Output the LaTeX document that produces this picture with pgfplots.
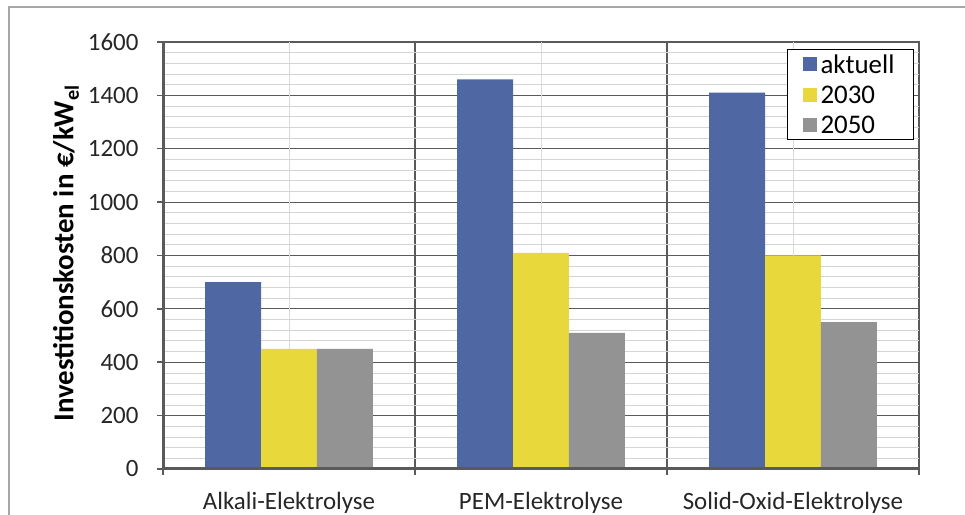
\documentclass[border=0pt]{standalone}
\usepackage{pgfplots}
\pgfplotsset{compat=1.18}
\usepackage{fontspec}
\setmainfont{Carlito}
\definecolor{cblue}{HTML}{4F67A3}
\definecolor{cyellow}{HTML}{E8D83B}
\definecolor{cgray}{HTML}{939393}
\definecolor{dgray}{HTML}{5A5A5A}
\definecolor{mlgray}{HTML}{D4D4D4}
\definecolor{vlgray}{HTML}{DADADA}
\definecolor{framegray}{HTML}{A6A6A6}
\begin{document}
\begin{tikzpicture}[x=1bp,y=1bp]
\useasboundingbox (0,0) rectangle (965,515);
\draw[color=framegray, line width=1.5bp] (9,0) -- (9,508) -- (965,508);
\begin{axis}[
  at={(163bp,46bp)}, anchor=south west,
  scale only axis, width=756bp, height=427bp,
  xmin=-0.5, xmax=2.5, ymin=0, ymax=1600,
  ytick={0,200,...,1600},
  xtick={-0.5,0.5,1.5,2.5}, xticklabels={},
  xtick pos=bottom, ytick pos=left,
  extra x ticks={0,1,2},
  extra x tick labels={Alkali-Elektrolyse,PEM-Elektrolyse,Solid-Oxid-Elektrolyse},
  extra x tick style={grid=major, major tick length=0pt, major grid style={color=vlgray, line width=0.8bp}},
  extra y ticks={40,80,120,160,240,280,320,360,440,480,520,560,640,680,720,760,840,880,920,960,1040,1080,1120,1160,1240,1280,1320,1360,1440,1480,1520,1560},
  extra y tick labels={},
  extra y tick style={grid=major, major tick length=0pt, major grid style={color=mlgray, line width=0.8bp}},
  grid=major,
  major grid style={color=dgray, line width=1.2bp},
  tick align=outside, major tick length=6bp,
  tick style={color=dgray, line width=1.5bp},
  axis line style={color=dgray, line width=1.2bp},
  /pgf/number format/1000 sep={},
  /pgf/number format/assume math mode=true,
  font=\fontsize{25}{30}\selectfont,
  ticklabel style={font=\fontsize{25}{30}\selectfont, text=black!85},
  yticklabel style={xshift=-15bp},
  xticklabel style={yshift=-20bp},
  ylabel={\bfseries Investitionskosten in €/kW\textsubscript{el}},
  ylabel style={at={(rel axis cs:-0.1283,0.505)}, rotate=0, anchor=center, font=\fontsize{29}{34}\selectfont},
  ybar=0pt, bar width=0.222,
  legend style={at={(rel axis cs:1,1)}, anchor=north east, xshift=-5bp, yshift=-7bp,
    draw=black, line width=1.2bp, font=\fontsize{27}{32}\selectfont, row sep=11bp,
    inner xsep=15bp, inner ysep=5bp, nodes={inner xsep=4bp, inner ysep=0bp}},
  legend cell align=left,
  legend image code/.code={\fill[#1,draw=none] (0bp,-6.5bp) rectangle (14bp,7.5bp);},
]
\addplot[fill=cblue, draw=none, bar shift=-0.222] coordinates {(0,700) (1,1460) (2,1410)};
\addplot[fill=cyellow, draw=none, bar shift=0] coordinates {(0,450) (1,810) (2,800)};
\addplot[fill=cgray, draw=none, bar shift=0.222] coordinates {(0,450) (1,510) (2,550)};
\legend{aktuell,2030,2050}
\draw[color=dgray, line width=3bp] (rel axis cs:0,0) -- (rel axis cs:0,1);
\draw[color=dgray, line width=3bp] (rel axis cs:0,0) -- (rel axis cs:1,0);
\end{axis}
\end{tikzpicture}
\end{document}
